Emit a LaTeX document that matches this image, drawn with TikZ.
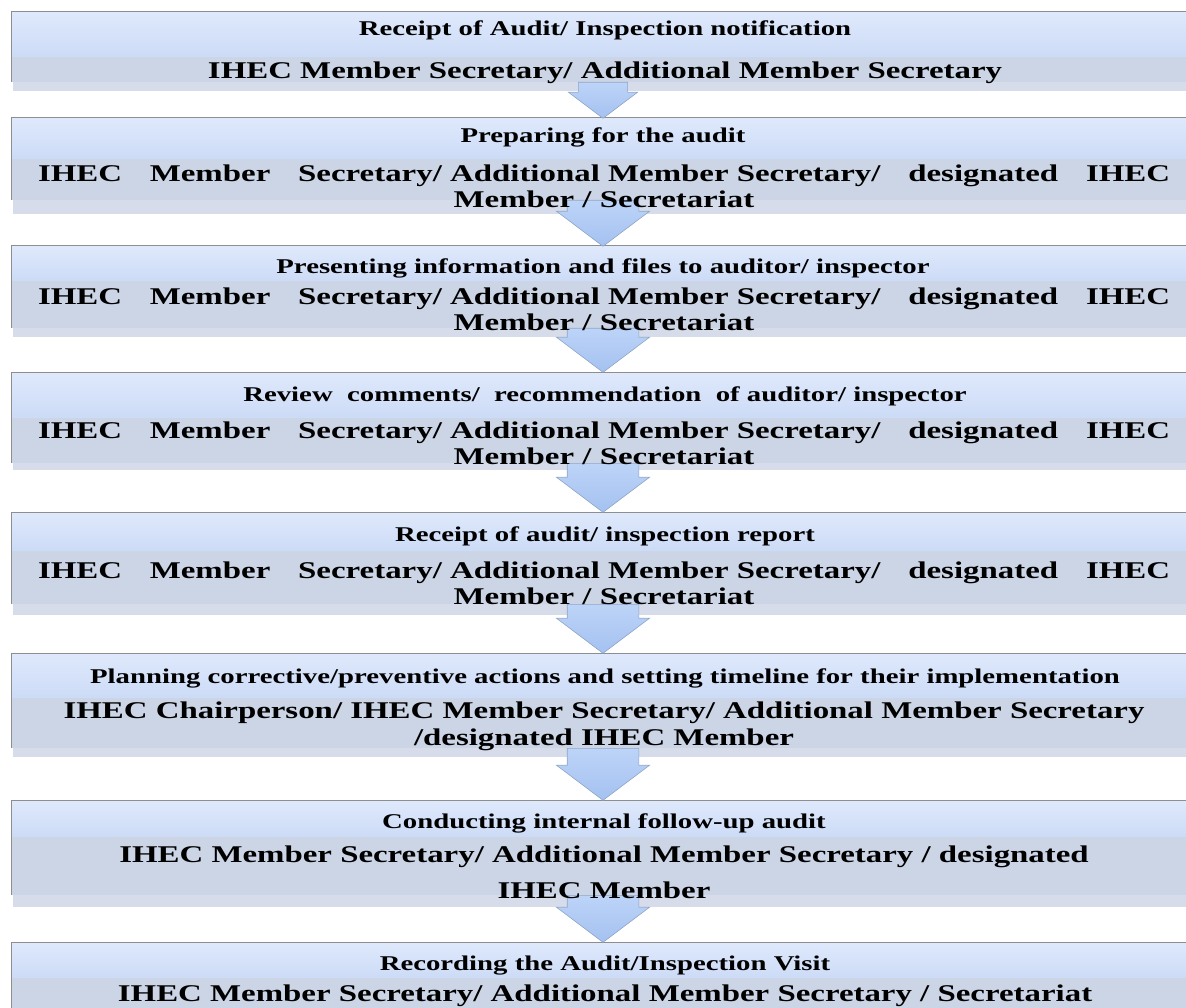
\documentclass[tikz,border=0pt]{standalone}
\usepackage{fontspec}
\setmainfont{Liberation Serif}[FakeStretch=1.37]
\usepackage{tikz}
\usetikzlibrary{shapes,arrows,positioning,calc,arrows.meta}

\definecolor{paneltop}{HTML}{DFE9FC}
\definecolor{panelmid}{HTML}{CCDBF6}
\definecolor{bandgray}{HTML}{CCD5E5}
\definecolor{shadowgray}{HTML}{D6DCE9}
\definecolor{edgegray}{HTML}{8E8E8E}
\definecolor{arrowtop}{HTML}{BDD4F8}
\definecolor{arrowbot}{HTML}{A4C1F0}
\definecolor{arrowedge}{HTML}{8EA5C8}

\begin{document}
\begin{tikzpicture}[x=1pt,y=-1pt,
    panel/.style={top color=paneltop,bottom color=panelmid},
    band/.style={fill=bandgray},
    shadowstrip/.style={fill=shadowgray},
    edge/.style={draw=edgegray,line width=1pt},
    steptitle/.style={font=\bfseries\fontsize{21}{24}\selectfont,inner sep=0pt},
    whobox/.style={font=\bfseries\fontsize{24}{26}\selectfont,align=center,inner sep=0pt},
    downarrow/.style={single arrow,shape border rotate=270,single arrow tip angle=106,anchor=tail,
        minimum width=93,inner xsep=23.5pt,inner ysep=0pt,top color=arrowtop,bottom color=arrowbot,
        draw=arrowedge,line width=0.6pt}]
    \useasboundingbox (0,0) rectangle (1186,1008);

    % Step 1: notification
    \fill[shadowstrip] (13,82) rectangle (1186,91);
    \shade[panel] (11,12) rectangle (1186,57);
    \fill[band] (11,57) rectangle (1186,82);
    \draw[edge] (11,82) -- (11,12) -- (1186,12);
    \coordinate (b1bot) at (603,82);

    % Step 2: preparing
    \fill[shadowstrip] (13,200) rectangle (1186,214);
    \shade[panel] (11,118) rectangle (1186,159);
    \fill[band] (11,159) rectangle (1186,200);
    \draw[edge] (11,200) -- (11,118) -- (1186,118);
    \coordinate (b2bot) at (603,200);

    % Step 3: presenting files
    \fill[shadowstrip] (13,328) rectangle (1186,337);
    \shade[panel] (11,246) rectangle (1186,281);
    \fill[band] (11,281) rectangle (1186,328);
    \draw[edge] (11,328) -- (11,246) -- (1186,246);
    \coordinate (b3bot) at (603,328);

    % Step 4: review comments
    \fill[shadowstrip] (13,463) rectangle (1186,470);
    \shade[panel] (11,372) rectangle (1186,418);
    \fill[band] (11,418) rectangle (1186,463);
    \draw[edge] (11,463) -- (11,372) -- (1186,372);
    \coordinate (b4bot) at (603,463);

    % Step 5: report
    \fill[shadowstrip] (13,604) rectangle (1186,615);
    \shade[panel] (11,512) rectangle (1186,551);
    \fill[band] (11,551) rectangle (1186,604);
    \draw[edge] (11,604) -- (11,512) -- (1186,512);
    \coordinate (b5bot) at (603,604);

    % Step 6: corrective actions
    \fill[shadowstrip] (13,748) rectangle (1186,757);
    \shade[panel] (11,653) rectangle (1186,698);
    \fill[band] (11,698) rectangle (1186,748);
    \draw[edge] (11,748) -- (11,653) -- (1186,653);
    \coordinate (b6bot) at (603,748);

    % Step 7: follow-up audit
    \fill[shadowstrip] (13,895) rectangle (1186,907);
    \shade[panel] (11,800) rectangle (1186,837);
    \fill[band] (11,837) rectangle (1186,895);
    \draw[edge] (11,895) -- (11,800) -- (1186,800);
    \coordinate (b7bot) at (603,895);

    % Step 8: recording
    \shade[panel] (11,942) rectangle (1186,978);
    \fill[band] (11,978) rectangle (1186,1010);
    \draw[edge] (11,1010) -- (11,942) -- (1186,942);

    % Arrows between steps (tail on the box above, tip on the box below)
    \node[downarrow,minimum width=69,inner xsep=17.5pt,minimum height=36] (a1) at (b1bot) {};
    \node[downarrow,minimum height=46] (a2) at (b2bot) {};
    \node[downarrow,minimum height=44] (a3) at (b3bot) {};
    \node[downarrow,minimum height=49] (a4) at (b4bot) {};
    \node[downarrow,minimum height=49] (a5) at (b5bot) {};
    \node[downarrow,minimum height=52] (a6) at (b6bot) {};
    \node[downarrow,minimum height=47] (a7) at (b7bot) {};

    % Texts
    \node[steptitle] (t1) at (605,30) {Receipt of Audit/ Inspection notification};
    \node[whobox] (s1) at (605,73) {IHEC Member Secretary/ Additional Member Secretary};

    \node[steptitle] (t2) at (603,137) {Preparing for the audit};
    \node[whobox] (s2) at (604,186) {\makebox[1132pt]{IHEC\hfill Member\hfill Secretary/ Additional Member Secretary/\hfill designated\hfill IHEC}\\ Member / Secretariat};

    \node[steptitle] (t3) at (603,268) {Presenting information and files to auditor/ inspector};
    \node[whobox] (s3) at (604,309) {\makebox[1132pt]{IHEC\hfill Member\hfill Secretary/ Additional Member Secretary/\hfill designated\hfill IHEC}\\ Member / Secretariat};

    \node[steptitle] (t4) at (605,396) {Review\ \ comments/\ \ recommendation\ \ of auditor/ inspector};
    \node[whobox] (s4) at (604,443) {\makebox[1132pt]{IHEC\hfill Member\hfill Secretary/ Additional Member Secretary/\hfill designated\hfill IHEC}\\ Member / Secretariat};

    \node[steptitle] (t5) at (605,536) {Receipt of audit/ inspection report};
    \node[whobox] (s5) at (604,583) {\makebox[1132pt]{IHEC\hfill Member\hfill Secretary/ Additional Member Secretary/\hfill designated\hfill IHEC}\\ Member / Secretariat};

    \node[steptitle] (t6) at (605,678) {Planning corrective/preventive actions and setting timeline for their implementation};
    \node[whobox,font=\bfseries\fontsize{24}{27}\selectfont] (s6) at (604,726.5) {IHEC Chairperson/ IHEC Member Secretary/ Additional Member Secretary\\ /designated IHEC Member};

    \node[steptitle] (t7) at (604,823) {Conducting internal follow-up audit};
    \node[whobox] (s7) at (604,872) {IHEC Member Secretary/ Additional Member Secretary / designated\\[10pt] IHEC Member};

    \node[steptitle] (t8) at (605,966) {Recording the Audit/Inspection Visit};
    \node[whobox] (s8) at (605,996) {IHEC Member Secretary/ Additional Member Secretary / Secretariat};
\end{tikzpicture}
\end{document}
